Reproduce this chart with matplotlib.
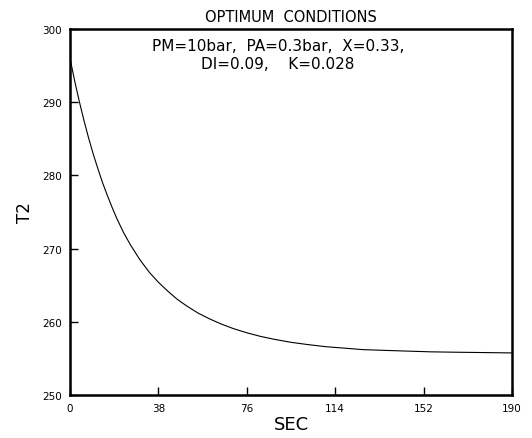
import matplotlib
matplotlib.use("Agg")
import matplotlib.pyplot as plt

# time (s) and T2
sec = [0, 2, 4, 6, 8, 10, 12, 14, 16, 18, 20, 23, 26, 30, 34, 38, 42, 46, 50, 55, 60, 65, 70, 76,
       82, 88, 95, 102, 110, 118, 126, 135, 145, 155, 165, 178, 190]
t2 = [296.0, 292.9, 290.1, 287.5, 285.1, 282.9, 280.9, 279.0, 277.3, 275.7, 274.2, 272.2, 270.5, 268.5,
      266.8, 265.4, 264.2, 263.1, 262.2, 261.2, 260.4, 259.7, 259.1, 258.5,
      258.0, 257.6, 257.2, 256.9, 256.6, 256.4, 256.2, 256.1, 256.0, 255.9, 255.85, 255.8, 255.75]

x_ticks = [0, 38, 76, 114, 152, 190]
y_ticks = [250, 260, 270, 280, 290, 300]

fig = plt.figure(figsize=(5.32, 4.39), dpi=100)
ax = fig.add_axes([0.1316, 0.0979, 0.8308, 0.8338])

ax.plot(sec, t2, color="black", linewidth=0.8)

ax.set_xlim(0, 190)
ax.set_ylim(250, 300)
ax.set_xticks(x_ticks)
ax.set_yticks(y_ticks)
ax.tick_params(direction="in", length=6, width=1, labelsize=7.5, pad=6)

for s in ax.spines.values():
    s.set_linewidth(1.8)

ax.set_title("OPTIMUM  CONDITIONS", fontsize=10.5, pad=6)
ax.set_xlabel("SEC", fontsize=13, labelpad=1)
ax.set_ylabel("T2", fontsize=12, labelpad=6)

ax.text(0.47, 0.975, "PM=10bar,  PA=0.3bar,  X=0.33,\nDI=0.09,    K=0.028",
        transform=ax.transAxes, ha="center", va="top", fontsize=11,
        linespacing=1.2, multialignment="center")

fig.savefig("out.png", dpi=100)
